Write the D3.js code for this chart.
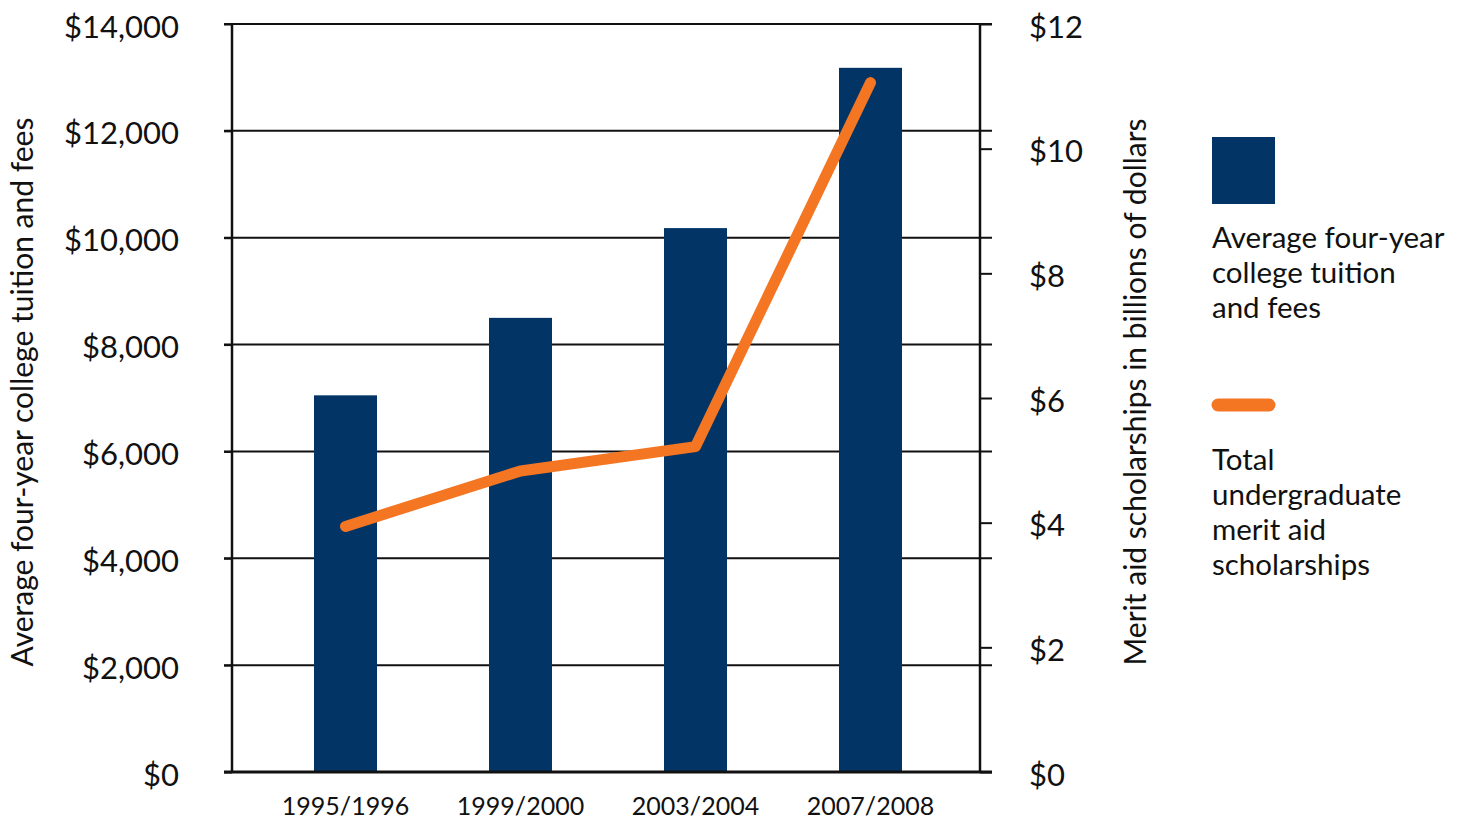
<!DOCTYPE html>
<html>
<head>
<meta charset="utf-8">
<script src="https://cdn.jsdelivr.net/npm/d3@7"></script>
<style>
  body { margin: 0; background: #fff; }
  svg text { font-family: Lato, "Open Sans", sans-serif; fill: #111; }
</style>
</head>
<body>
<svg id="chart" width="1460" height="819"></svg>
<script>
const years = ["1995/1996", "1999/2000", "2003/2004", "2007/2008"];
const tuition = [7050, 8500, 10180, 13180];
const meritAid = [3.94, 4.83, 5.22, 11.06];
const leftTicks = [0, 2000, 4000, 6000, 8000, 10000, 12000, 14000];
const rightTicks = [0, 2, 4, 6, 8, 10, 12];

const margin = { top: 24, left: 232, right: 480, bottom: 47 },
    width = 1460 - margin.left - margin.right,
    height = 819 - margin.top - margin.bottom;

const svg = d3.select("#chart").append("g")
    .attr("transform", `translate(${margin.left},${margin.top})`);

const x = d3.scaleBand().domain(years).range([26, 726]).paddingInner(0.64).paddingOuter(0.32);
const yL = d3.scaleLinear().domain([0, 14000]).range([height, 0]);
const yR = d3.scaleLinear().domain([0, 12]).range([height, 0]);

// gridlines
svg.append("g").selectAll("line").data(leftTicks.slice(1)).join("line")
    .attr("x1", -8).attr("x2", width + 12)
    .attr("y1", d => yL(d)).attr("y2", d => yL(d))
    .attr("stroke", "#111").attr("stroke-width", 2);

// bars
svg.selectAll("rect.bar").data(tuition).join("rect").attr("class", "bar")
    .attr("x", (d, i) => x(years[i])).attr("y", d => yL(d))
    .attr("width", x.bandwidth()).attr("height", d => height - yL(d))
    .attr("fill", "#023566");

// left axis
const left = svg.append("g").call(d3.axisLeft(yL).tickValues(leftTicks).tickSize(8).tickPadding(45)
    .tickFormat(d => "$" + d3.format(",")(d)));
left.select(".domain").attr("stroke", "#111").attr("stroke-width", 2.5).attr("d", `M0,0V${height}`);
left.selectAll(".tick line").attr("stroke", "#111").attr("stroke-width", 2);
left.selectAll("text").style("font-size", "31px").attr("dy", "0.42em").attr("fill", "#111");

// right axis
const right = svg.append("g").attr("transform", `translate(${width},0)`)
    .call(d3.axisRight(yR).tickValues(rightTicks).tickSize(12).tickPadding(37).tickFormat(d => "$" + d));
right.select(".domain").attr("stroke", "#111").attr("stroke-width", 2.5).attr("d", `M0,0V${height}`);
right.selectAll(".tick line").attr("stroke", "#111").attr("stroke-width", 2);
right.selectAll("text").style("font-size", "31px").attr("dy", "0.42em").attr("fill", "#111");

// baseline
svg.append("line").attr("x1", -8).attr("x2", width + 12).attr("y1", height).attr("y2", height)
    .attr("stroke", "#111").attr("stroke-width", 3);

// x labels
svg.append("g").selectAll("text").data(years).join("text")
    .attr("x", d => x(d) + x.bandwidth() / 2).attr("y", height + 43)
    .attr("text-anchor", "middle").style("font-size", "25px").text(d => d);

// merit aid line
const line = d3.line().x((d, i) => x(years[i]) + x.bandwidth() / 2).y(d => yR(d));
svg.append("path").datum(meritAid).attr("d", line)
    .attr("fill", "none").attr("stroke", "#f47623").attr("stroke-width", 11)
    .attr("stroke-linecap", "round").attr("stroke-linejoin", "round");

// axis titles
svg.append("text").attr("transform", `translate(${-210},${height / 2 - 6}) rotate(-90)`)
    .attr("text-anchor", "middle").attr("dy", "0.35em").style("font-size", "30px")
    .text("Average four-year college tuition and fees");
svg.append("text").attr("transform", `translate(${width + 155},${height / 2 - 6}) rotate(-90)`)
    .attr("text-anchor", "middle").attr("dy", "0.35em").style("font-size", "30px")
    .text("Merit aid scholarships in billions of dollars");

// legend
const legend = d3.select("#chart").append("g").attr("transform", "translate(1212,137)");
legend.append("rect").attr("width", 63).attr("height", 67).attr("fill", "#023566");
const addLines = (lines, y0) => legend.append("text").style("font-size", "29.5px")
    .selectAll("tspan").data(lines).join("tspan")
    .attr("x", 0).attr("y", (d, i) => y0 + i * 35).text(d => d);
addLines(["Average four-year", "college tuition", "and fees"], 111);
legend.append("line").attr("x1", 6).attr("x2", 57).attr("y1", 268).attr("y2", 268)
    .attr("stroke", "#f47623").attr("stroke-width", 13).attr("stroke-linecap", "round");
addLines(["Total", "undergraduate", "merit aid", "scholarships"], 333);
</script>
</body>
</html>
